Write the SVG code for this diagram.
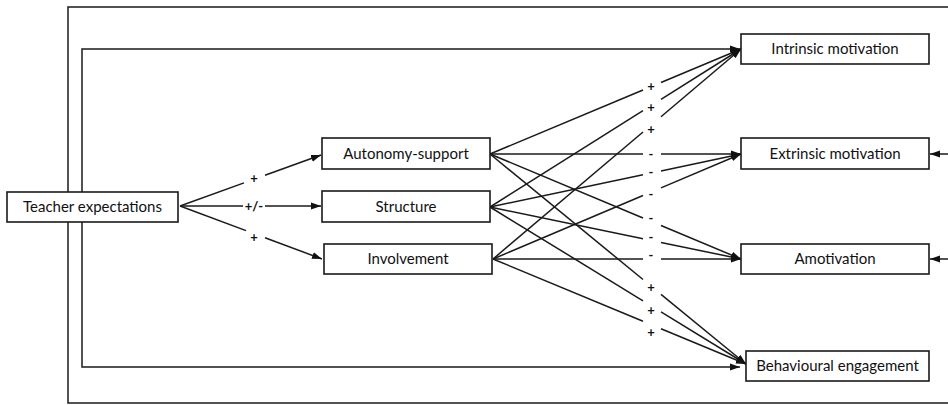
<svg xmlns="http://www.w3.org/2000/svg" width="948" height="405" viewBox="0 0 948 405">
<style>
.box{fill:#fff;stroke:#1a1a1a;stroke-width:1.6}
.t{font-family:Lato,"Liberation Sans",sans-serif;font-size:15px;fill:#111;text-anchor:middle}
.lbl{font-family:Lato,"Liberation Sans",sans-serif;font-size:13px;font-weight:bold;fill:#111;text-anchor:middle}
.c{fill:none;stroke:#1a1a1a;stroke-width:1.5}
</style>
<defs>
<marker id="ah" markerUnits="userSpaceOnUse" markerWidth="11" markerHeight="8" refX="10" refY="4" orient="auto">
<path d="M0,0.5 L10,4 L0,7.5 z" fill="#111"/>
</marker>
</defs>
<rect width="948" height="405" fill="#fff"/>
<g id="connectors">
<path class="c" d="M68,192 V7 H950"/>
<path class="c" d="M68,222 V403 H950"/>
<path class="c" d="M82,192 V49 H740" marker-end="url(#ah)"/>
<path class="c" d="M82,222 V367 H740" marker-end="url(#ah)"/>
<line class="c" x1="950" y1="154" x2="930" y2="154" marker-end="url(#ah)"/>
<line class="c" x1="950" y1="259" x2="930" y2="259" marker-end="url(#ah)"/>
<line class="c" x1="180" y1="206" x2="244" y2="182.9"/>
<line class="c" x1="265" y1="175.3" x2="321" y2="155" marker-end="url(#ah)"/>
<line class="c" x1="180" y1="206" x2="243" y2="206"/>
<line class="c" x1="265" y1="206" x2="321" y2="206" marker-end="url(#ah)"/>
<line class="c" x1="180" y1="206" x2="246" y2="230.6"/>
<line class="c" x1="265" y1="237.7" x2="322" y2="259" marker-end="url(#ah)"/>
<line class="c" x1="490" y1="154" x2="643" y2="90"/>
<line class="c" x1="661" y1="82.5" x2="741" y2="49" marker-end="url(#ah)"/>
<line class="c" x1="490" y1="207" x2="643" y2="110.7"/>
<line class="c" x1="661" y1="99.4" x2="741" y2="49" marker-end="url(#ah)"/>
<line class="c" x1="493" y1="259" x2="643" y2="132"/>
<line class="c" x1="661" y1="116.7" x2="741" y2="49" marker-end="url(#ah)"/>
<line class="c" x1="490" y1="154" x2="643" y2="154"/>
<line class="c" x1="661" y1="154" x2="741" y2="154" marker-end="url(#ah)"/>
<line class="c" x1="490" y1="207" x2="643" y2="174.7"/>
<line class="c" x1="661" y1="170.9" x2="741" y2="154" marker-end="url(#ah)"/>
<line class="c" x1="493" y1="259" x2="643" y2="195.5"/>
<line class="c" x1="661" y1="187.9" x2="741" y2="154" marker-end="url(#ah)"/>
<line class="c" x1="490" y1="154" x2="643" y2="218"/>
<line class="c" x1="661" y1="225.5" x2="741" y2="259" marker-end="url(#ah)"/>
<line class="c" x1="490" y1="207" x2="643" y2="238.7"/>
<line class="c" x1="661" y1="242.4" x2="741" y2="259" marker-end="url(#ah)"/>
<line class="c" x1="493" y1="259" x2="643" y2="259"/>
<line class="c" x1="661" y1="259" x2="741" y2="259" marker-end="url(#ah)"/>
<line class="c" x1="490" y1="154" x2="643" y2="279.5"/>
<line class="c" x1="661" y1="294.3" x2="746" y2="364" marker-end="url(#ah)"/>
<line class="c" x1="490" y1="207" x2="643" y2="300.8"/>
<line class="c" x1="661" y1="311.9" x2="746" y2="364" marker-end="url(#ah)"/>
<line class="c" x1="493" y1="259" x2="643" y2="321.3"/>
<line class="c" x1="661" y1="328.7" x2="746" y2="364" marker-end="url(#ah)"/>
<text class="lbl" x="254" y="182.5">+</text>
<text class="lbl" x="254" y="210.5">+/-</text>
<text class="lbl" x="254" y="241.5">+</text>
<text class="lbl" x="651" y="90.5">+</text>
<text class="lbl" x="651" y="111.5">+</text>
<text class="lbl" x="651" y="133.5">+</text>
<text class="lbl" x="651" y="159">-</text>
<text class="lbl" x="651" y="177">-</text>
<text class="lbl" x="651" y="199">-</text>
<text class="lbl" x="651" y="223">-</text>
<text class="lbl" x="651" y="242">-</text>
<text class="lbl" x="651" y="260">-</text>
<text class="lbl" x="651" y="291.5">+</text>
<text class="lbl" x="651" y="314.5">+</text>
<text class="lbl" x="651" y="336.5">+</text>
</g>
<g id="teacher-expectations"><rect class="box" x="7" y="192" width="171" height="30"/><text class="t" x="92.5" y="212">Teacher expectations</text></g>
<g id="autonomy-support"><rect class="box" x="322" y="138" width="168" height="31"/><text class="t" x="406" y="158.5">Autonomy-support</text></g>
<g id="structure"><rect class="box" x="322" y="191" width="168" height="31"/><text class="t" x="406" y="211.5">Structure</text></g>
<g id="involvement"><rect class="box" x="324" y="244" width="168" height="30"/><text class="t" x="408" y="264">Involvement</text></g>
<g id="intrinsic-motivation"><rect class="box" x="741" y="34" width="188" height="30"/><text class="t" x="835" y="54">Intrinsic motivation</text></g>
<g id="extrinsic-motivation"><rect class="box" x="741" y="138" width="188" height="31"/><text class="t" x="835" y="158.5">Extrinsic motivation</text></g>
<g id="amotivation"><rect class="box" x="741" y="244" width="188" height="30"/><text class="t" x="835" y="264">Amotivation</text></g>
<g id="behavioural-engagement"><rect class="box" x="746" y="351" width="183" height="30"/><text class="t" x="837.5" y="371">Behavioural engagement</text></g>
</svg>
